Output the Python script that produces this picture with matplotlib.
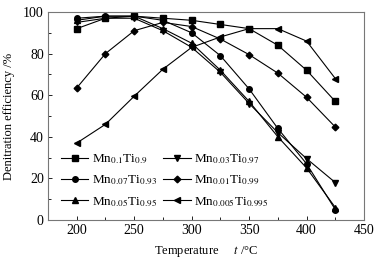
import matplotlib
matplotlib.use("Agg")
import matplotlib.pyplot as plt

plt.rcParams['font.family'] = ['Liberation Serif', 'DejaVu Sans']
plt.rcParams['mathtext.fontset'] = 'stix'

temps = [200, 225, 250, 275, 300, 325, 350, 375, 400, 425]
mn01 = [92, 97, 98, 97, 96, 94, 92, 84, 72, 57]
mn007 = [97, 98, 98, 96, 90, 79, 63, 44, 27, 5]
mn005 = [96, 98, 98, 92, 85, 72, 57, 40, 25, 6]
mn003 = [95, 97, 97, 91, 83, 71, 56, 42, 29.5, 18]
mn001 = [63.5, 80, 91, 95, 93, 87, 79.5, 70.6, 59, 44.7]
mn0005 = [37, 46, 59.5, 72.5, 83, 88, 92, 92, 86, 68]

labels = [r'Mn$_{0.1}$Ti$_{0.9}$', r'Mn$_{0.07}$Ti$_{0.93}$', r'Mn$_{0.05}$Ti$_{0.95}$',
          r'Mn$_{0.03}$Ti$_{0.97}$', r'Mn$_{0.01}$Ti$_{0.99}$', r'Mn$_{0.005}$Ti$_{0.995}$']
series = [mn01, mn007, mn005, mn003, mn001, mn0005]
markers = ['s', 'o', '^', 'v', 'D', '<']
msizes = [3.8, 4, 4.2, 4.2, 3.4, 4.2]

fig = plt.figure(figsize=(3.82, 2.59), dpi=100)
ax = fig.add_axes([0.1257, 0.1506, 0.953 - 0.1257, 0.9537 - 0.1506])

for y, lab, m, ms in zip(series, labels, markers, msizes):
    ax.plot(temps, y, color='black', lw=0.8, marker=m, ms=ms, label=lab)

ax.set_xlim(175, 450)
ax.set_ylim(0, 100)
ax.set_xticks([200, 250, 300, 350, 400, 450])
ax.set_xticks([225, 275, 325, 375, 425], minor=True)
ax.set_yticks([0, 20, 40, 60, 80, 100])
ax.set_yticks([10, 30, 50, 70, 90], minor=True)
ax.tick_params(direction='in', labelsize=10, length=3, width=0.6, pad=3)
ax.tick_params(which='minor', direction='in', length=2, width=0.6)
for s in ax.spines.values():
    s.set_color('#777777')
    s.set_linewidth(0.8)

ax.set_ylabel('Denitration efficiency /%', fontsize=9, labelpad=6)
ax.set_xlabel(r'Temperature     $t$ /°C', fontsize=9, labelpad=5)

leg = ax.legend(ncol=2, loc='lower left', bbox_to_anchor=(0.04, 0.055), frameon=False,
                fontsize=9.5, handlelength=2.1, handletextpad=0.25, columnspacing=0.5,
                labelspacing=0.62, borderaxespad=0.0, borderpad=0.0)

fig.savefig('out.png', dpi=100)
